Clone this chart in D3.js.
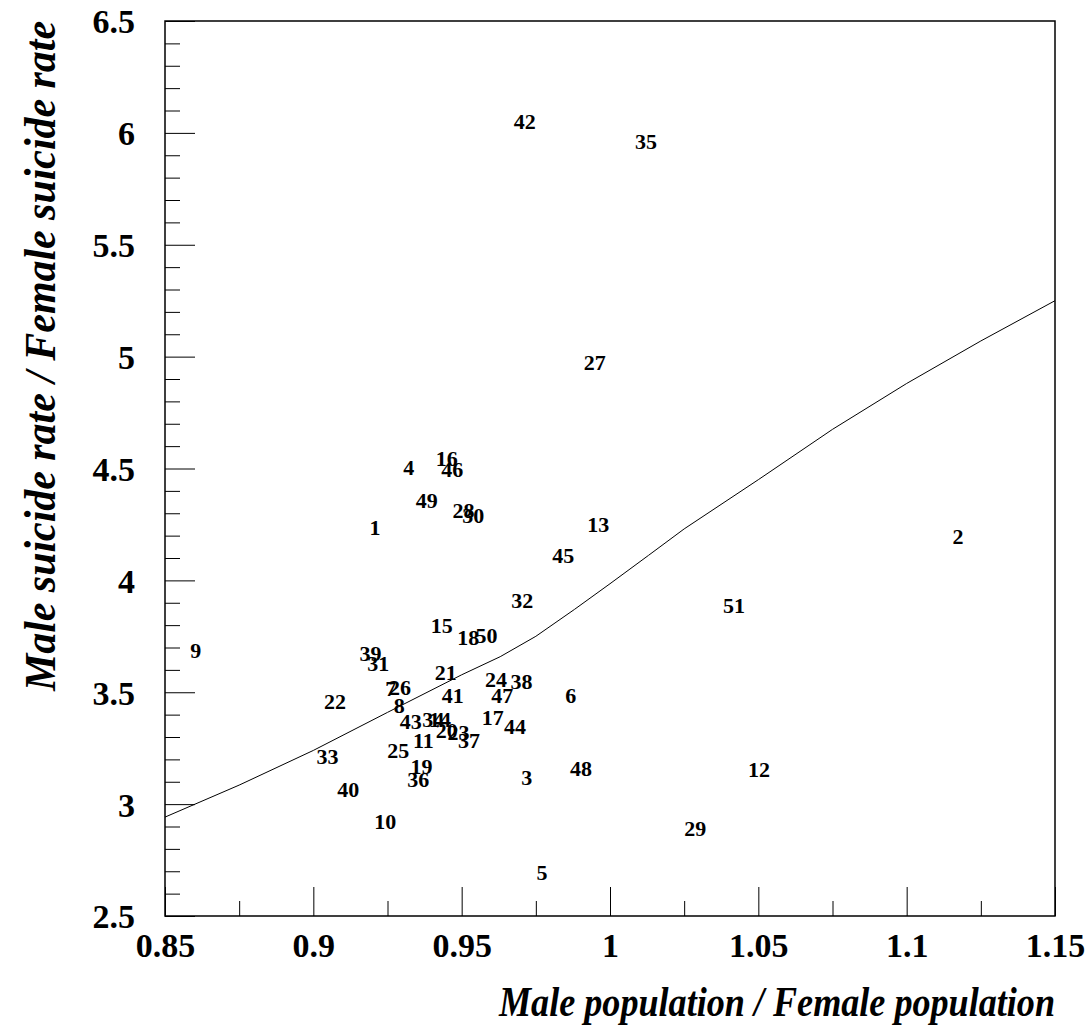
<!DOCTYPE html>
<html>
<head>
<meta charset="utf-8">
<script src="https://cdn.jsdelivr.net/npm/d3@7"></script>
<style>
  body { margin: 0; background: #fff; }
  text { font-family: "Liberation Serif", "Times New Roman", serif; }
</style>
</head>
<body>
<div id="chart"></div>
<script>
// state labels (1..51) with ratios
const labels = d3.range(1, 52).map(String);
const popRatio = [
  0.9208, 1.1173, 0.9719, 0.9322, 0.9771, 0.9868, 0.9261, 0.9290, 0.8604, 0.9242,
  0.9371, 1.0502, 0.9960, 0.9427, 0.9433, 0.9450, 0.9605, 0.9522, 0.9365, 0.9450,
  0.9446, 0.9073, 0.9489, 0.9616, 0.9286, 0.9292, 0.9949, 0.9506, 1.0287, 0.9539,
  0.9219, 0.9704, 0.9048, 0.9404, 1.0121, 0.9354, 0.9525, 0.9702, 0.9193, 0.9118,
  0.9470, 0.9713, 0.9328, 0.9680, 0.9842, 0.9468, 0.9637, 0.9902, 0.9382, 0.9584,
  1.0418
];
const suicideRatio = [
  4.235, 4.198, 3.118, 4.505, 2.697, 3.488, 3.518, 3.443, 3.689, 2.925,
  3.287, 3.157, 4.252, 3.380, 3.801, 4.546, 3.386, 3.746, 3.167, 3.331,
  3.589, 3.461, 3.319, 3.558, 3.242, 3.522, 4.976, 4.315, 2.893, 4.292,
  3.629, 3.912, 3.212, 3.380, 5.964, 3.112, 3.287, 3.550, 3.674, 3.066,
  3.488, 6.053, 3.372, 3.349, 4.113, 4.496, 3.488, 3.161, 4.359, 3.753,
  3.890
];

// fitted curve
const curveX = [0.850, 0.875, 0.900, 0.925, 0.950, 0.963, 0.975, 0.988, 1.000, 1.013, 1.025, 1.050, 1.075, 1.100, 1.125, 1.150];
const curveY = [2.942, 3.085, 3.240, 3.410, 3.578, 3.659, 3.750, 3.870, 3.985, 4.112, 4.230, 4.450, 4.675, 4.880, 5.070, 5.250];

const xMajor = [0.85, 0.9, 0.95, 1, 1.05, 1.1, 1.15];
const xMinor = [0.875, 0.925, 0.975, 1.025, 1.075, 1.125];
const yMajor = [2.5, 3, 3.5, 4, 4.5, 5, 5.5, 6, 6.5];
const yMinor = d3.range(25, 66).filter(d => d % 5 != 0).map(d => d / 10);

const width = 1087, height = 1036;
const margin = { top: 21, right: 32, bottom: 120, left: 165 };
const w = width - margin.left - margin.right;
const h = height - margin.top - margin.bottom;

const svg = d3.select("#chart").append("svg")
    .attr("width", width)
    .attr("height", height);

const g = svg.append("g")
    .attr("transform", "translate(" + margin.left + "," + margin.top + ")");

const x = d3.scaleLinear().domain([0.85, 1.15]).range([0, w]);
const y = d3.scaleLinear().domain([2.5, 6.5]).range([h, 0]);

// minor ticks
g.append("g")
    .attr("transform", "translate(0," + h + ")")
    .call(d3.axisBottom(x).tickValues(xMinor).tickSizeInner(-15).tickSizeOuter(0).tickFormat(""))
    .call(a => a.select(".domain").remove());
g.append("g")
    .call(d3.axisLeft(y).tickValues(yMinor).tickSizeInner(-15).tickSizeOuter(0).tickFormat(""))
    .call(a => a.select(".domain").remove());

// major ticks with labels
g.append("g")
    .attr("class", "xAxis")
    .attr("transform", "translate(0," + h + ")")
    .call(d3.axisBottom(x).tickValues(xMajor).tickSizeInner(-29).tickSizeOuter(0).tickFormat(d => d3.format("")(d)))
    .call(a => a.select(".domain").remove());
g.append("g")
    .attr("class", "yAxis")
    .call(d3.axisLeft(y).tickValues(yMajor).tickSizeInner(-30).tickSizeOuter(0).tickFormat(d => d3.format("")(d)))
    .call(a => a.select(".domain").remove());

g.selectAll(".xAxis text, .yAxis text")
    .style("font-family", "'Liberation Serif', serif")
    .style("font-weight", "bold")
    .style("font-size", "34px")
    .attr("fill", "#000");
g.selectAll(".xAxis .tick text").attr("y", 0).attr("dy", "41px");
g.selectAll(".yAxis .tick text").attr("x", -30).attr("dy", "0.35em");
g.selectAll(".tick line").attr("stroke", "#000").attr("stroke-width", 1);

// frame
g.append("rect")
    .attr("x", 0).attr("y", 0)
    .attr("width", w).attr("height", h)
    .attr("fill", "none")
    .attr("stroke", "#000")
    .attr("stroke-width", 1.5);

// curve
const curveData = curveX.map((d, i) => ({ x: d, y: curveY[i] }));
const line = d3.line().x(d => x(d.x)).y(d => y(d.y));
g.append("path")
    .datum(curveData)
    .attr("d", line)
    .attr("fill", "none")
    .attr("stroke", "#000")
    .attr("stroke-width", 1);

// point labels
const points = labels.map((d, i) => ({ label: d, x: popRatio[i], y: suicideRatio[i] }));
g.selectAll(".pointLabel").data(points).join("text")
    .attr("class", "pointLabel")
    .attr("x", d => x(d.x))
    .attr("y", d => y(d.y))
    .attr("dy", "0.35em")
    .attr("text-anchor", "middle")
    .style("font-weight", "bold")
    .style("font-size", "22px")
    .text(d => d.label);

// axis titles
svg.append("text")
    .attr("x", margin.left + w)
    .attr("y", 1016)
    .attr("text-anchor", "end")
    .attr("textLength", 556)
    .attr("lengthAdjust", "spacingAndGlyphs")
    .style("font-weight", "bold")
    .style("font-style", "italic")
    .style("font-size", "42px")
    .text("Male population / Female population");

svg.append("text")
    .attr("transform", "translate(55," + margin.top + ") rotate(-90)")
    .attr("text-anchor", "end")
    .attr("textLength", 670)
    .attr("lengthAdjust", "spacingAndGlyphs")
    .style("font-weight", "bold")
    .style("font-style", "italic")
    .style("font-size", "44px")
    .text("Male suicide rate / Female suicide rate");
</script>
</body>
</html>
